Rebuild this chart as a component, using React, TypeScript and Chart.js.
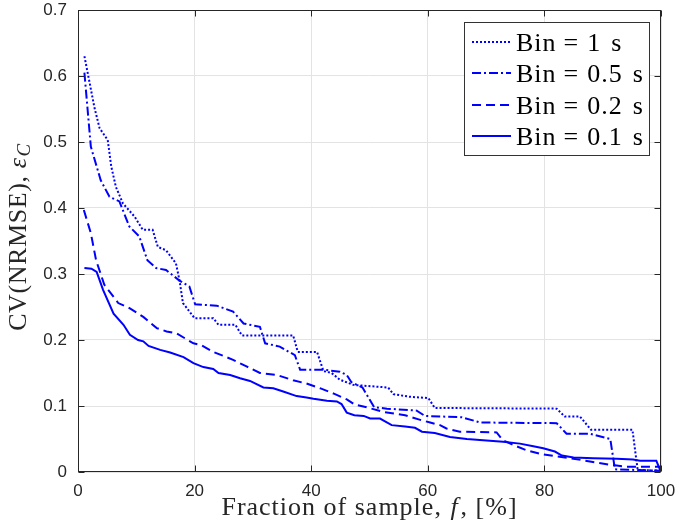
import React, { useEffect, useRef } from "react";
import { Chart, registerables } from "chart.js";

Chart.register(...registerables);

// ---- Data ----
const bin1X = [1.1, 1.9, 2.8, 3.7, 5.1, 5.7, 6.5, 7.7, 9.7, 11.1, 12.8, 13.7, 15.1, 16.8, 17.4, 18.0, 20.0, 23.2, 24.1, 27.0, 28.1, 36.9, 37.7, 41.0, 42.1, 43.5, 44.9, 47.2, 53.2, 54.1, 56.9, 60.1, 61.2, 82.1, 83.5, 86.1, 88.0, 95.1, 96.0, 100];
const bin1Y = [0.630, 0.594, 0.553, 0.521, 0.503, 0.463, 0.432, 0.407, 0.387, 0.367, 0.367, 0.341, 0.336, 0.316, 0.291, 0.256, 0.233, 0.233, 0.223, 0.223, 0.207, 0.207, 0.182, 0.182, 0.153, 0.150, 0.140, 0.132, 0.128, 0.118, 0.114, 0.112, 0.097, 0.096, 0.084, 0.084, 0.064, 0.064, 0.003, 0.002];

const bin05X = [1.1, 2.2, 3.9, 5.4, 7.1, 8.8, 10.5, 11.9, 13.4, 15.1, 17.4, 19.1, 20.1, 23.8, 26.6, 28.4, 31.2, 32.1, 34.6, 37.2, 38.1, 42.1, 44.9, 46.1, 46.9, 48.8, 50.8, 53.0, 58.1, 59.5, 65.8, 69.0, 82.1, 83.8, 87.8, 91.3, 92.1, 100];
const bin05Y = [0.605, 0.493, 0.442, 0.417, 0.410, 0.372, 0.357, 0.321, 0.309, 0.306, 0.290, 0.281, 0.254, 0.252, 0.243, 0.225, 0.220, 0.195, 0.190, 0.177, 0.155, 0.155, 0.152, 0.147, 0.136, 0.128, 0.098, 0.096, 0.093, 0.085, 0.083, 0.075, 0.074, 0.058, 0.058, 0.050, 0.004, 0.002];

const bin02X = [1.0, 2.2, 3.1, 4.5, 6.9, 8.9, 11.2, 13.5, 15.2, 16.9, 19.8, 21.2, 23.2, 26.6, 28.9, 31.2, 34.1, 36.9, 39.2, 41.5, 43.8, 46.1, 47.5, 49.5, 52.4, 56.1, 58.7, 60.4, 62.1, 63.2, 65.5, 71.8, 72.9, 75.2, 76.9, 79.5, 84.4, 87.8, 91.3, 94.1, 100];
const bin02Y = [0.397, 0.362, 0.321, 0.284, 0.256, 0.248, 0.235, 0.218, 0.213, 0.210, 0.195, 0.192, 0.182, 0.170, 0.160, 0.150, 0.147, 0.139, 0.134, 0.127, 0.119, 0.110, 0.102, 0.098, 0.091, 0.086, 0.079, 0.075, 0.071, 0.066, 0.061, 0.060, 0.048, 0.039, 0.033, 0.027, 0.021, 0.016, 0.011, 0.008, 0.008];

const bin01X = [1.1, 2.3, 3.2, 4.3, 6.1, 7.8, 8.9, 10.3, 11.2, 12.1, 14.1, 15.8, 18.1, 19.8, 21.5, 23.2, 24.1, 26.1, 27.8, 29.5, 31.8, 33.5, 35.2, 37.5, 39.2, 40.4, 42.7, 44.4, 45.2, 46.1, 47.4, 49.0, 50.1, 51.8, 53.8, 56.1, 57.8, 59.0, 61.2, 63.8, 66.7, 69.5, 72.9, 75.8, 78.1, 79.8, 81.8, 83.0, 85.0, 88.4, 92.4, 95.2, 96.4, 99.2, 100];
const bin01Y = [0.309, 0.308, 0.303, 0.276, 0.240, 0.223, 0.208, 0.200, 0.198, 0.191, 0.185, 0.181, 0.174, 0.165, 0.159, 0.156, 0.150, 0.147, 0.142, 0.138, 0.128, 0.127, 0.122, 0.115, 0.113, 0.111, 0.108, 0.107, 0.103, 0.090, 0.086, 0.085, 0.081, 0.081, 0.071, 0.069, 0.067, 0.061, 0.059, 0.053, 0.050, 0.048, 0.046, 0.043, 0.039, 0.036, 0.031, 0.025, 0.022, 0.021, 0.020, 0.019, 0.017, 0.017, 0.000];

const xTicks = [0, 20, 40, 60, 80, 100];
const yTicks = [0, 0.1, 0.2, 0.3, 0.4, 0.5, 0.6, 0.7];
const legendNumbers = ["1", "0.5", "0.2", "0.1"];
const dashes: number[][] = [[2, 2], [9, 3, 2, 3], [9, 5], []];

const BLUE = "#0000ff";
const AXIS = "#262626";
const SERIF = "'Liberation Serif', 'DejaVu Serif', serif";
const SANS = "'Liberation Sans', Arial, sans-serif";

const toPoints = (xs: number[], ys: number[]) => xs.map((x, i) => ({ x, y: ys[i] }));

const zeroPad = (s: any) => {
  s.paddingLeft = 0;
  s.paddingRight = 0;
  s.paddingTop = 0;
  s.paddingBottom = 0;
};

const decorPlugin = {
  id: "decor",
  afterDatasetsDraw(chart: any) {
    const { ctx, chartArea: a, scales } = chart;
    ctx.save();
    ctx.strokeStyle = AXIS;
    ctx.lineWidth = 1;
    ctx.setLineDash([]);
    const L = Math.round(a.left) + 0.5;
    const R = Math.round(a.right) - 0.5;
    const T = Math.round(a.top) + 0.5;
    const B = Math.round(a.bottom) - 0.5;
    ctx.strokeRect(L, T, R - L, B - T);
    const tl = 6;
    ctx.beginPath();
    for (const v of xTicks) {
      const px = Math.round(scales.x.getPixelForValue(v)) + 0.5;
      ctx.moveTo(px, B); ctx.lineTo(px, B - tl);
      ctx.moveTo(px, T); ctx.lineTo(px, T + tl);
    }
    for (const v of yTicks) {
      const py = Math.round(scales.y.getPixelForValue(v)) + 0.5;
      ctx.moveTo(L, py); ctx.lineTo(L + tl, py);
      ctx.moveTo(R, py); ctx.lineTo(R - tl, py);
    }
    ctx.stroke();

    // Legend
    const lx = 464.5, ly = 22.5, lw = 185, lh = 133;
    ctx.fillStyle = "#ffffff";
    ctx.fillRect(lx, ly, lw, lh);
    ctx.strokeStyle = "#333333";
    ctx.strokeRect(lx, ly, lw, lh);
    const rows = [42, 73, 105, 136];
    ctx.font = `26px ${SERIF}`;
    ctx.textBaseline = "middle";
    ctx.textAlign = "left";
    rows.forEach((ry, i) => {
      ctx.strokeStyle = BLUE;
      ctx.lineWidth = 2;
      ctx.setLineDash(dashes[i]);
      ctx.beginPath();
      ctx.moveTo(472, ry);
      ctx.lineTo(511, ry);
      ctx.stroke();
      ctx.setLineDash([]);
      ctx.fillStyle = "#000000";
      (ctx as any).letterSpacing = "1px";
      let x = 516;
      const ty = ry + 2;
      ctx.fillText("Bin", x, ty);
      x += ctx.measureText("Bin").width + 7;
      ctx.fillText("=", x, ty);
      x += ctx.measureText("=").width + 8;
      ctx.fillText(legendNumbers[i], x, ty);
      x += ctx.measureText(legendNumbers[i]).width + 10;
      ctx.fillText("s", x, ty);
      (ctx as any).letterSpacing = "0px";
    });

    // X axis title
    ctx.fillStyle = "#262626";
    ctx.textBaseline = "alphabetic";
    (ctx as any).letterSpacing = "1px";
    const p1 = "Fraction of sample, ";
    const p2 = "f";
    const p3 = ", [%]";
    ctx.font = `26px ${SERIF}`;
    const w1 = ctx.measureText(p1).width;
    const w3 = ctx.measureText(p3).width;
    ctx.font = `italic 26px ${SERIF}`;
    const w2 = ctx.measureText(p2).width + 3;
    const total = w1 + w2 + w3;
    const xs = (a.left + a.right) / 2 - total / 2;
    ctx.font = `26px ${SERIF}`;
    ctx.fillText(p1, xs, 515);
    ctx.font = `italic 26px ${SERIF}`;
    ctx.fillText(p2, xs + w1 + 1, 515);
    ctx.font = `26px ${SERIF}`;
    ctx.fillText(p3, xs + w1 + w2, 515);

    // Y axis title (rotated)
    ctx.save();
    (ctx as any).letterSpacing = "0.6px";
    const q1 = "CV(NRMSE), ";
    const q2 = "\u03b5";
    const q3 = "C";
    ctx.font = `26px ${SERIF}`;
    const v1 = ctx.measureText(q1).width;
    ctx.font = `italic 26px ${SERIF}`;
    const v2 = ctx.measureText(q2).width + 1;
    ctx.font = `italic 19px ${SERIF}`;
    const v3 = ctx.measureText(q3).width;
    const tot = v1 + v2 + v3;
    ctx.translate(26, 237);
    ctx.rotate(-Math.PI / 2);
    const sx = -tot / 2;
    ctx.font = `26px ${SERIF}`;
    ctx.fillText(q1, sx, 0);
    ctx.font = `italic 26px ${SERIF}`;
    ctx.fillText(q2, sx + v1, 0);
    ctx.font = `italic 19px ${SERIF}`;
    ctx.fillText(q3, sx + v1 + v2, 4);
    ctx.restore();
    (ctx as any).letterSpacing = "0px";

    ctx.restore();
  },
};

export default function App() {
  const ref = useRef<HTMLCanvasElement | null>(null);
  useEffect(() => {
    document.body.style.margin = "0";
    const canvas = ref.current!;
    const series = [
      { label: "Bin = 1 s", pts: toPoints(bin1X, bin1Y) },
      { label: "Bin = 0.5 s", pts: toPoints(bin05X, bin05Y) },
      { label: "Bin = 0.2 s", pts: toPoints(bin02X, bin02Y) },
      { label: "Bin = 0.1 s", pts: toPoints(bin01X, bin01Y) },
    ];
    const chart = new Chart(canvas, {
      type: "line",
      data: {
        datasets: series.map((s, i) => ({
          label: s.label,
          data: s.pts,
          borderColor: BLUE,
          backgroundColor: BLUE,
          borderWidth: 2,
          borderDash: dashes[i],
          pointRadius: 0,
          tension: 0,
          fill: false,
        })),
      },
      options: {
        animation: false,
        responsive: false,
        maintainAspectRatio: false,
        layout: { autoPadding: false, padding: { top: 10, right: 15, left: 0, bottom: 0 } },
        plugins: { legend: { display: false }, tooltip: { enabled: false } },
        scales: {
          x: {
            type: "linear",
            min: 0,
            max: 100,
            afterFit: (s: any) => { s.height = 58; zeroPad(s); },
            afterBuildTicks: (s: any) => { s.ticks = xTicks.map((v) => ({ value: v })); },
            ticks: { color: AXIS, font: { family: SANS, size: 17 }, padding: 9, maxRotation: 0 },
            grid: { color: "#e3e3e3", drawTicks: false, lineWidth: 1 },
            border: { display: false },
          },
          y: {
            type: "linear",
            min: 0,
            max: 0.7,
            afterFit: (s: any) => { s.width = 78; zeroPad(s); },
            afterBuildTicks: (s: any) => { s.ticks = yTicks.map((v) => ({ value: v })); },
            ticks: {
              color: AXIS,
              font: { family: SANS, size: 17 },
              padding: 11,
              callback: (v: any) => (v === 0 ? "0" : Number(v).toFixed(1)),
            },
            grid: { color: "#e3e3e3", drawTicks: false, lineWidth: 1 },
            border: { display: false },
          },
        },
      },
      plugins: [decorPlugin],
    });
    return () => chart.destroy();
  }, []);
  return (
    <div style={{ position: "absolute", left: 0, top: 0, width: 676, height: 530, background: "#ffffff" }}>
      <canvas ref={ref} width={676} height={530} style={{ display: "block" }} />
    </div>
  );
}
